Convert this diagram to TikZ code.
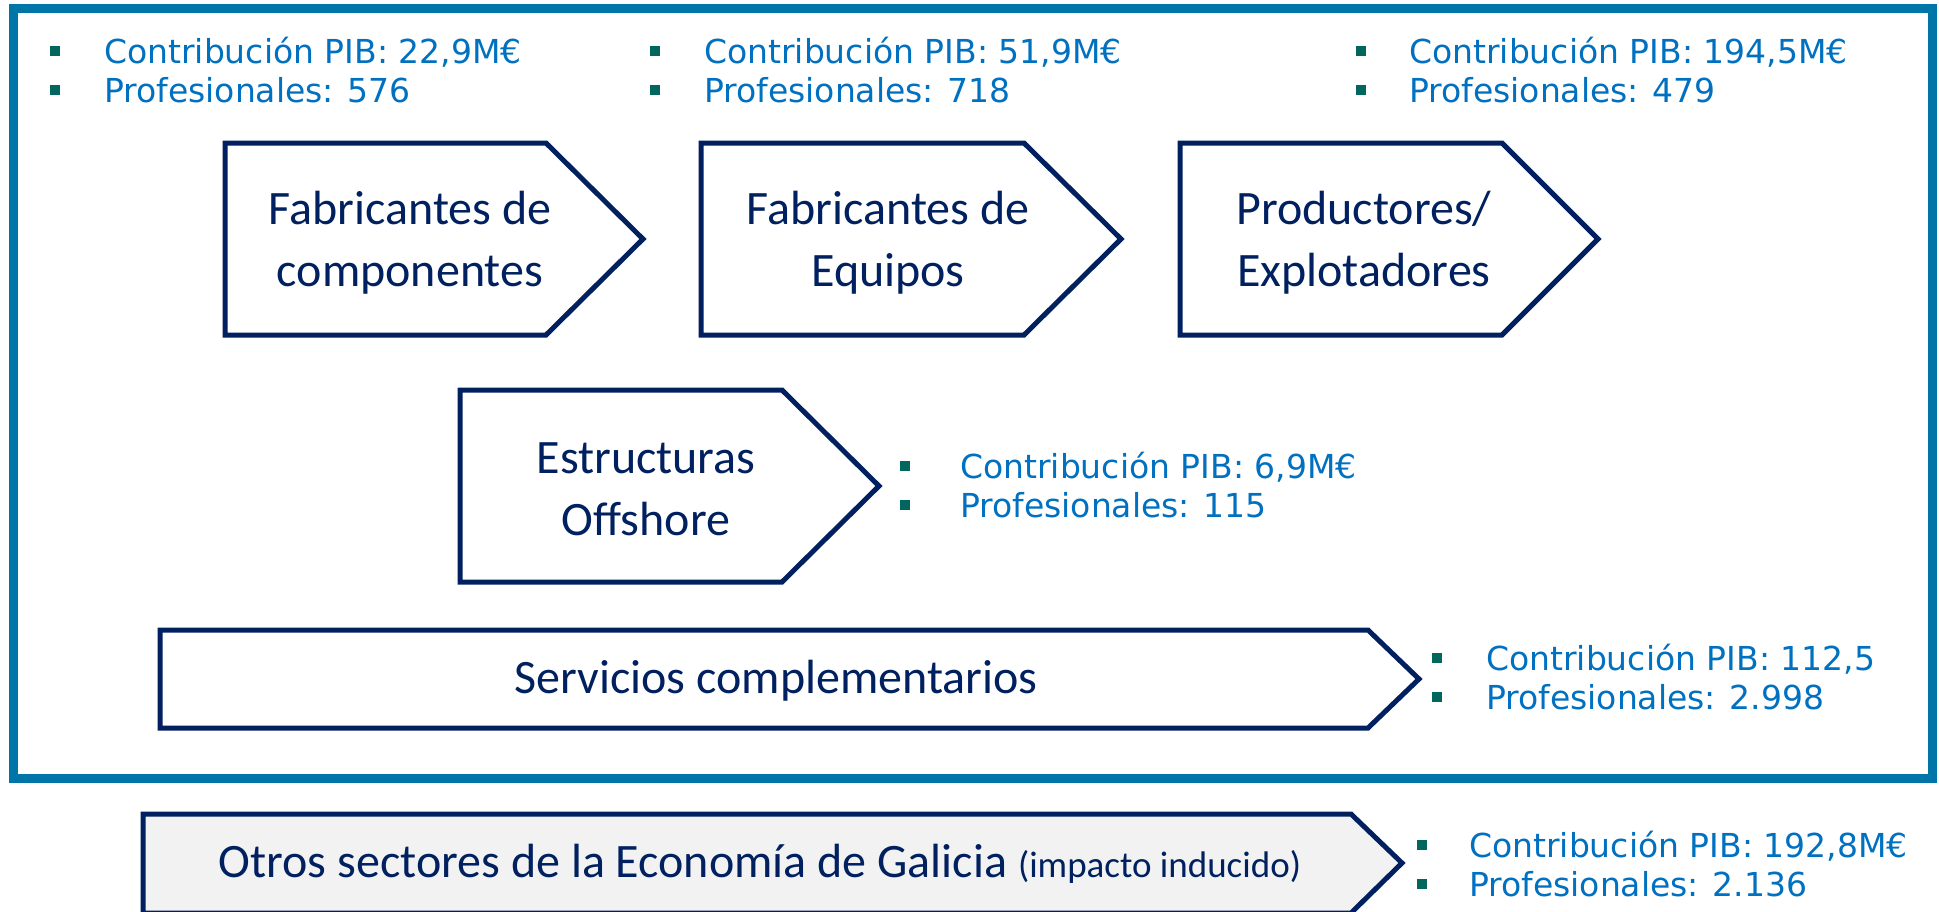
\documentclass[tikz,border=0pt]{standalone}
\usepackage{fontspec}
\setmainfont{Carlito}
\newfontfamily\vfont{DejaVu Sans}
\definecolor{navy}{RGB}{0,32,96}
\definecolor{frameblue}{RGB}{0,118,168}
\definecolor{infoblue}{RGB}{0,112,192}
\definecolor{bullteal}{RGB}{0,102,94}
\definecolor{lightfill}{RGB}{242,242,242}
\newcommand\infolist[6]{%
  \node[infotext] (#1a) at (#3,#4) {#5};
  \node[infotext] (#1b) at (#3,#4+39) {#6};
  \node[bul] (#1p) at (#2,#4-12) {};
  \node[bul] (#1q) at (#2,#4+27) {};
}
\begin{document}
\begin{tikzpicture}[x=1pt,y=-1pt,
  chev/.style={draw=navy,line width=5pt,line join=miter},
  boxtext/.style={font=\fontsize{48}{62}\selectfont,text=navy,align=center,inner sep=0pt},
  infotext/.style={font=\vfont\fontsize{33}{39}\selectfont,text=infoblue,inner sep=0pt,anchor=base west},
  bul/.style={fill=bullteal,minimum size=10pt,inner sep=0pt,rectangle}]
\useasboundingbox (0,0) rectangle (1939,911);
\clip (0,0) rectangle (1939,911);
\fill[white] (0,0) rectangle (1939,911);
% outer frame
\draw[frameblue,line width=9pt] (13,8) rectangle (1932,778);
% chevrons
\draw[chev] (225,143) -- (546,143) -- (643,239) -- (546,335) -- (225,335) -- cycle;
\draw[chev] (701,143) -- (1024,143) -- (1121,239) -- (1024,335) -- (701,335) -- cycle;
\draw[chev] (1180,143) -- (1502,143) -- (1598,239) -- (1502,335) -- (1180,335) -- cycle;
\draw[chev] (460,390) -- (782,390) -- (879,486) -- (782,582) -- (460,582) -- cycle;
\draw[chev] (160,630) -- (1368,630) -- (1419,679) -- (1368,728) -- (160,728) -- cycle;
\draw[chev,fill=lightfill] (143,814) -- (1351,814) -- (1402,863) -- (1351,913) -- (143,913) -- cycle;
% box texts
\node[boxtext] (t1) at (410,243) {Fabricantes de\\componentes};
\node[boxtext] (t2) at (888,243) {Fabricantes de\\Equipos};
\node[boxtext] (t3) at (1364,243) {Productores/\\Explotadores};
\node[boxtext] (t4) at (646,489) {Estructuras\\Offshore};
\node[boxtext] (t5) at (776,681) {Servicios complementarios};
\node[boxtext] (t6) at (760,864) {Otros sectores de la Econom\'ia de Galicia {\fontsize{37}{44}\selectfont(impacto inducido)}};
% info lists
\infolist{l1}{55}{104}{63}{Contribución PIB: 22,9M€}{Profesionales: 576}
\infolist{l2}{655}{704}{63}{Contribución PIB: 51,9M€}{Profesionales: 718}
\infolist{l3}{1361}{1409}{63}{Contribución PIB: 194,5M€}{Profesionales: 479}
\infolist{l4}{905}{960}{478}{Contribución PIB: 6,9M€}{Profesionales: 115}
\infolist{l5}{1437}{1486}{670}{Contribución PIB: 112,5}{Profesionales: 2.998}
\infolist{l6}{1422}{1469}{857}{Contribución PIB: 192,8M€}{Profesionales: 2.136}
\end{tikzpicture}
\end{document}
